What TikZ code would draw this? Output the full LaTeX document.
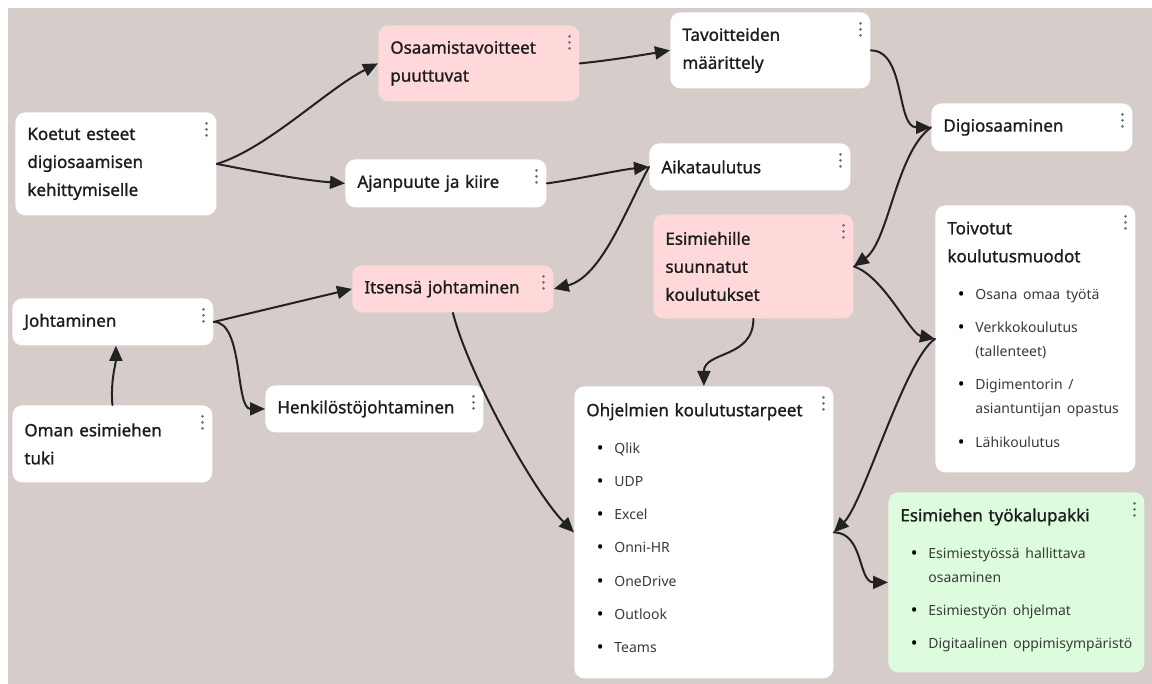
\documentclass[tikz,border=0pt]{standalone}
\usepackage{fontspec}
\setmainfont{Noto Sans}
\newfontfamily\titlefont{Noto Sans}[FakeBold=1.1]
\usetikzlibrary{arrows.meta}

\definecolor{bgbeige}{RGB}{214,205,203}
\definecolor{pinkcard}{RGB}{255,217,217}
\definecolor{greencard}{RGB}{221,252,221}
\definecolor{inkblack}{RGB}{28,28,28}
\definecolor{listgray}{RGB}{58,58,58}
\definecolor{dotgray}{RGB}{110,114,122}
\definecolor{linkblack}{RGB}{34,34,34}

% list parts of the cards
\newcommand{\listhead}{\par\vspace{2pt}\normalfont\fontsize{7}{12}\selectfont\color{listgray}}
\newcommand{\bitem}[1]{\par\vspace{4.6pt}\hangindent=14pt\hangafter=1\noindent\makebox[14pt][l]{\hspace{5.2pt}\raisebox{-0.5pt}{\textcolor{black}{\fontsize{9}{9}\selectfont\textbullet}}}#1}
\newcommand{\listend}{\par\vspace{4pt}}

\begin{document}
\begin{tikzpicture}[x=0.5pt, y=-0.5pt,
    card/.style={fill=white, rounded corners=5pt, anchor=north west, align=left,
      inner xsep=6pt, inner ysep=0pt, text=inkblack,
      font=\titlefont\fontsize{8.5}{14}\selectfont,
      path picture={\foreach \k in {0,1,2}
        \fill[dotgray] ([xshift=-5pt, yshift={-5.5pt-3pt*\k}]path picture bounding box.north east) circle (0.75pt);}},
    boxsize/.style 2 args={text width=#1, minimum height=#2},
    bendto/.style n args={4}{to path={.. controls +(#1,#2) and +(#3,#4) .. (\tikztotarget)}}]
			\useasboundingbox (0,0) rectangle (1152,684);
			\fill[white] (0,0) rectangle (1152,684);
			\fill[bgbeige] (8,8) rectangle (1152,684);
			\begin{scope}[every node/.style={card}]
				\node[boxsize={88.5pt}{51.5pt}] (koetut) at (15,112) {Koetut esteet\\digiosaamisen\\kehittymiselle};
				\node[boxsize={88.5pt}{38pt}, fill=pinkcard] (osaamis) at (378,25) {Osaamistavoitteet\\puuttuvat};
				\node[boxsize={88pt}{38pt}] (tavoit) at (670,12) {Tavoitteiden\\määrittely};
				\node[boxsize={88.5pt}{24pt}] (ajanpuute) at (345,159) {Ajanpuute ja kiire};
				\node[boxsize={88.5pt}{23.5pt}] (aikataulu) at (649,143) {Aikataulutus};
				\node[boxsize={88.5pt}{24pt}] (digiosaa) at (931,103) {Digiosaaminen};
				\node[boxsize={88pt}{52pt}, fill=pinkcard] (esimiehille) at (653,214) {Esimiehille\\suunnatut\\koulutukset};
				\node[boxsize={88pt}{133.5pt}] (toivotut) at (935,205) {Toivotut\\koulutusmuodot\listhead
					\bitem{Osana omaa työtä}
					\bitem{Verkkokoulutus\newline(tallenteet)}
					\bitem{Digimentorin /\newline asiantuntijan opastus}
					\bitem{Lähikoulutus}\listend};
				\node[boxsize={88.5pt}{23.5pt}] (johtaminen) at (12,298) {Johtaminen};
				\node[boxsize={88.5pt}{23.5pt}, fill=pinkcard] (itsensa) at (352,265) {Itsensä johtaminen};
				\node[boxsize={97pt}{23.5pt}] (henkilo) at (265,385) {Henkilöstöjohtaminen};
				\node[boxsize={88pt}{38.5pt}] (oman) at (12,405) {Oman esimiehen\\tuki};
				\node[boxsize={117.5pt}{146pt}] (ohjelmat) at (574,386) {Ohjelmien koulutustarpeet\listhead
					\bitem{Qlik}
					\bitem{UDP}
					\bitem{Excel}
					\bitem{Onni-HR}
					\bitem{OneDrive}
					\bitem{Outlook}
					\bitem{Teams}\listend};
				\node[boxsize={116pt}{90pt}, fill=greencard] (tyokalu) at (888,492) {Esimiehen työkalupakki\listhead
					\bitem{Esimiestyössä hallittava\newline osaaminen}
					\bitem{Esimiestyön ohjelmat}
					\bitem{Digitaalinen oppimisympäristö}\par\vspace{2pt}};
			\end{scope}
			\begin{scope}[every edge/.style={draw=linkblack, line width=1pt, line cap=round,
					-{Triangle[length=7.5pt, width=6.5pt]}}]
				\path (koetut.east)
					edge[bendto={50}{-15}{-50}{25}] (osaamis.west)
					edge[bendto={40}{8}{-40}{-3}] (ajanpuute.west)
					;
				\path (osaamis.east)
					edge[bendto={30}{-3}{-30}{5}] (tavoit.west)
					;
				\path (tavoit.east)
					edge[bendto={35}{0}{-35}{0}] (digiosaa.west)
					;
				\path (ajanpuute.east)
					edge[bendto={30}{-4}{-30}{3}] (aikataulu.west)
					;
				\path (aikataulu.west)
					edge[bendto={-22}{40}{48}{-12}] (itsensa.east)
					;
				\path (digiosaa.west)
					edge[bendto={-35}{25}{35}{-25}] (esimiehille.east)
					;
				\path (esimiehille.east)
					edge[bendto={30}{10}{-25}{-5}] (toivotut.west)
					;
				\path (esimiehille.south)
					edge[bendto={0}{40}{0}{-35}] (ohjelmat.north)
					;
				\path (toivotut.west)
					edge[bendto={-30}{20}{30}{-30}] (ohjelmat.east)
					;
				\path (ohjelmat.east)
					edge[bendto={30}{0}{-30}{0}] (tyokalu.west)
					;
				\path (johtaminen.east)
					edge (itsensa.west)
					edge[bendto={30}{0}{-30}{0}] (henkilo.west)
					;
				\path (itsensa.south)
					edge[bendto={15}{60}{-40}{-40}] (ohjelmat.west)
					;
				\path (oman.north)
					edge[bendto={-2}{-25}{0}{18}] ([xshift=1.5pt]johtaminen.south)
					;
			\end{scope}
		\end{tikzpicture}
\end{document}
